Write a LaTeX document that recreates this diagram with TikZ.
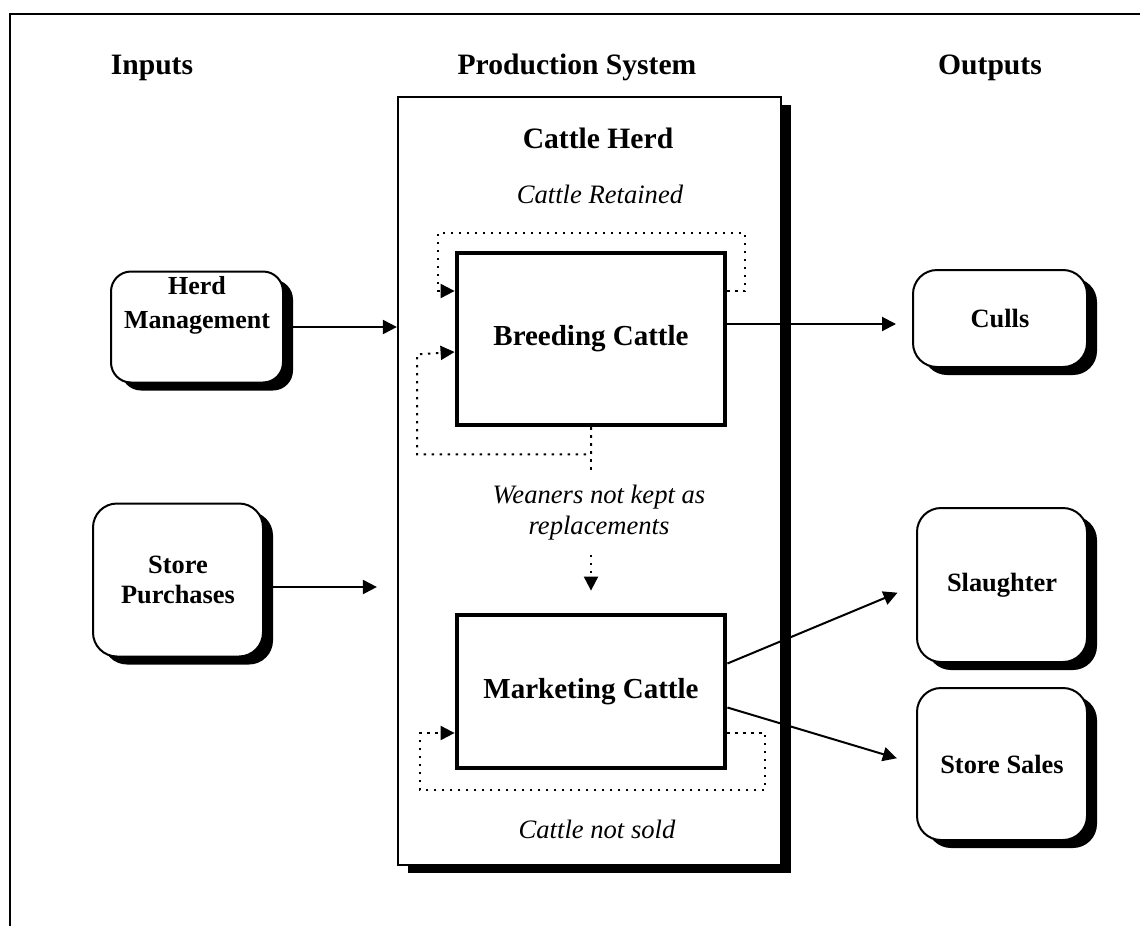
\documentclass[tikz,border=0pt]{standalone}
\usepackage{fontspec}
\setmainfont{Liberation Serif}
\usetikzlibrary{arrows.meta,positioning,shadows,calc}
\tikzset{
  blackshadow/.style={drop shadow={shadow xshift=5pt, shadow yshift=-4pt, fill=black, opacity=1}},
  sysbox/.style={draw, fill=white, line width=1.1pt, minimum width=191.5pt, minimum height=384pt, blackshadow},
  cattlebox/.style={draw, fill=white, line width=2.4pt, minimum width=134pt, align=center, font=\fontsize{14.5}{17}\selectfont\bfseries},
  extnode/.style={draw, fill=white, rounded corners=12pt, line width=1pt, minimum width=85pt, align=center, font=\fontsize{13.2}{15}\selectfont\bfseries, blackshadow},
  boxtext/.style={align=center, font=\fontsize{13}{17}\selectfont\bfseries},
  heading/.style={anchor=base, font=\fontsize{14.8}{17}\selectfont\bfseries},
  note/.style={align=center, font=\fontsize{13.3}{15.5}\selectfont\itshape},
  edge/.style={-{Triangle[length=7pt,width=7pt]}, line width=1pt},
  loopline/.style={line width=1pt, dash pattern=on 1.2pt off 2.8pt},
  loopedge/.style={loopline, -{Triangle[length=7pt,width=7pt]}},
  frame/.style={line width=1pt}
}
\begin{document}
\begin{tikzpicture}[x=0.5pt, y=-0.5pt]
  \useasboundingbox (0,0) rectangle (1140,926);
  \draw[frame] (10,926) -- (10,14) -- (1140,14);

  % column headings
  \node[heading] (inputs) at (152,74) {Inputs};
  \node[heading] (prodsys) at (577,74) {Production System};
  \node[heading] (outputs) at (990,74) {Outputs};

  % production system
  \node[sysbox] (sys) at (589.5,481) {};
  \node[heading] (herdlbl) at (598,148) {Cattle Herd};
  \node[note, anchor=base] (retained) at (600,203) {Cattle Retained};
  \node[cattlebox, minimum height=86pt] (brd) at (591,339) {Breeding Cattle};
  \node[cattlebox, minimum height=76.5pt] (mkt) at (591,691.5) {Marketing Cattle};
  \node[note] (wean) at (599,513) {Weaners not kept as\\replacements};
  \node[note, anchor=base] (notsold) at (597,838) {Cattle not sold};
  \coordinate (wtop) at (591,472);
  \coordinate (wbot) at (591,555);

  % inputs
  \node[extnode, minimum width=86pt, minimum height=55.5pt, rounded corners=10pt] (herd) at (197,327) {};
  \node[boxtext] (herdtxt) at ([yshift=11pt]herd.center) {Herd\\Management};
  \node[extnode, minimum height=76.5pt] (purch) at (178,580) {Store\\Purchases};

  % outputs
  \node[extnode, minimum width=87pt, minimum height=48.5pt] (culls) at (1000,318.5) {Culls};
  \node[extnode, minimum height=77pt] (slau) at (1002,585) {Slaughter};
  \node[extnode, minimum height=76pt] (sales) at (1002,764) {Store Sales};

  % flows
  \draw[edge] (herd.east) -- (herd.east -| sys.west);
  \draw[edge, shorten >=10pt] ([yshift=-3.5pt]purch.east) -- ([yshift=-3.5pt]purch.east -| sys.west);
  \draw[edge, shorten >=8pt] ([yshift=7.5pt]brd.east) -- ([yshift=7.5pt]brd.east -| culls.west);
  \draw[edge, shorten >=10pt] ([yshift=14pt]mkt.east) -- (slau.west);
  \draw[edge, shorten >=10pt] ([yshift=-8pt]mkt.east) -- (sales.west);

  % loops inside the herd
  \draw[loopedge] ([yshift=24pt]brd.east) -- ++(18,0) -- ++(0,-58) -- ++(-307,0) -- ++(0,58) -- ([yshift=24pt]brd.west);
  \draw[loopedge] (brd.south) -- ++(0,27) -- ++(-174,0) -- ++(0,-100) -- ([yshift=-6.5pt]brd.west);
  \draw[loopline] (brd.south) -- (wtop);
  \draw[loopedge, shorten >=11pt] (wbot) -- (mkt.north);
  \draw[loopedge] ([yshift=-20.75pt]mkt.east) -- ++(38,0) -- ++(0,57) -- ++(-345,0) -- ++(0,-57) -- ([yshift=-20.75pt]mkt.west);
\end{tikzpicture}
\end{document}
